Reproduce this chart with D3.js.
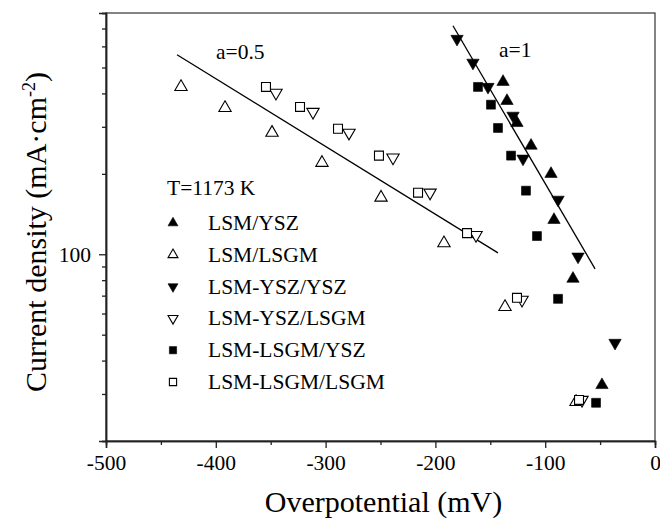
<!DOCTYPE html>
<html>
<head>
<meta charset="utf-8">
<script src="https://cdn.jsdelivr.net/npm/d3@7"></script>
<style>
  body { margin: 0; background: #fff; }
  text { font-family: "Liberation Serif", "Times New Roman", serif; fill: #000; }
</style>
</head>
<body>
<svg id="chart" width="660" height="518"></svg>
<script>
// Overpotential (mV) and current density (mA·cm-2) for each cathode/electrolyte pair
const lsmYszX = [-138.4, -134.8, -125.7, -112.9, -94.7, -92.0, -74.7, -48.3];
const lsmYszY = [442, 375, 310, 255, 200, 134.5, 81, 32.4];

const lsmLsgmX = [-431.7, -391.6, -348.8, -303.3, -249.5, -192.2, -136.6, -71.9];
const lsmLsgmY = [423, 353, 285, 220, 163, 110, 63.5, 28.0];

const lsmYszYszX = [-180.3, -165.8, -152.1, -129.3, -120.2, -88.3, -70.1, -36.4];
const lsmYszYszY = [640, 521, 423, 330, 228, 160, 98, 46.6];

const lsmYszLsgmX = [-345.2, -311.5, -278.7, -238.6, -204.9, -163.0, -121.1, -66.5];
const lsmYszLsgmY = [402, 341, 285, 230, 170, 118, 67.5, 28.5];

const lsmLsgmYszX = [-161.2, -149.4, -143.0, -131.1, -117.5, -107.5, -88.3, -53.7];
const lsmLsgmYszY = [423, 363, 297, 234, 173, 117, 68.1, 27.8];

const lsmLsgmLsgmX = [-354.3, -323.3, -288.7, -251.4, -215.8, -171.2, -125.7, -69.2];
const lsmLsgmLsgmY = [423, 356, 295, 234, 170, 120, 68.7, 28.5];

// Tafel fit lines (end points)
const fitHalfX = [-435.3, -143.0];
const fitHalfY = [558, 101.2];
const fitOneX = [-184.0, -54.6];
const fitOneY = [717, 88.2];

const xTicks = [-500, -400, -300, -200, -100, 0];
const xMinorTicks = [-450, -350, -250, -150, -50];
const yTicks = [100];
const yMinorTicks = [20, 30, 40, 50, 60, 70, 80, 90, 200, 300, 400, 500, 600, 700, 800];

const seriesNames = ["LSM/YSZ", "LSM/LSGM", "LSM-YSZ/YSZ", "LSM-YSZ/LSGM", "LSM-LSGM/YSZ", "LSM-LSGM/LSGM"];

const series = [
  { name: seriesNames[0], xs: lsmYszX, ys: lsmYszY, shape: "up", filled: true },
  { name: seriesNames[1], xs: lsmLsgmX, ys: lsmLsgmY, shape: "up", filled: false },
  { name: seriesNames[2], xs: lsmYszYszX, ys: lsmYszYszY, shape: "down", filled: true },
  { name: seriesNames[3], xs: lsmYszLsgmX, ys: lsmYszLsgmY, shape: "down", filled: false },
  { name: seriesNames[4], xs: lsmLsgmYszX, ys: lsmLsgmYszY, shape: "square", filled: true },
  { name: seriesNames[5], xs: lsmLsgmLsgmX, ys: lsmLsgmLsgmY, shape: "square", filled: false }
];

const svg = d3.select("#chart");
const L = 106, R = 655, T = 13, B = 441;

const x = d3.scaleLinear().domain([-500, 0]).range([L, R]);
const y = d3.scaleLog().domain([20, 800]).range([B, T]);

// Frame
svg.append("rect")
  .attr("x", L).attr("y", T).attr("width", R - L).attr("height", B - T)
  .attr("fill", "none").attr("stroke", "#333").attr("stroke-width", 1.2);

// Axes
const fontTick = 21.5;
svg.append("g").attr("transform", `translate(0,${B})`)
  .call(d3.axisBottom(x).tickValues(xTicks).tickSize(7).tickPadding(7).tickFormat(d => String(d)));
svg.append("g").attr("transform", `translate(0,${B})`)
  .call(d3.axisBottom(x).tickValues(xMinorTicks).tickSize(4).tickFormat(""));
svg.append("g").attr("transform", `translate(${L},0)`)
  .call(d3.axisLeft(y).tickValues(yTicks).tickSize(7).tickPadding(8).tickFormat(d => String(d)));
svg.append("g").attr("transform", `translate(${L},0)`)
  .call(d3.axisLeft(y).tickValues(yMinorTicks).tickSize(4).tickFormat(""));

svg.selectAll(".domain").attr("stroke", "#222").attr("stroke-width", 1.5);
svg.selectAll(".tick line").attr("stroke", "#222").attr("stroke-width", 1.3);
svg.selectAll(".tick text").style("font-size", fontTick + "px")
  .style("font-family", '"Liberation Serif", "Times New Roman", serif').attr("fill", "#000");

// Axis titles
svg.append("text")
  .attr("x", (L + R) / 2 + 3).attr("y", 512)
  .attr("text-anchor", "middle").style("font-size", "30px")
  .text("Overpotential (mV)");

const yt = svg.append("text")
  .attr("transform", `translate(46,232) rotate(-90)`)
  .attr("text-anchor", "middle").style("font-size", "30px");
yt.append("tspan").text("Current density (mA·cm");
yt.append("tspan").attr("dy", -11).style("font-size", "18px").text("-2");
yt.append("tspan").attr("dy", 11).text(")");

// Fit lines
const line = d3.line().x(d => x(d[0])).y(d => y(d[1]));
svg.append("path").datum(d3.zip(fitHalfX, fitHalfY))
  .attr("d", line).attr("fill", "none").attr("stroke", "#000").attr("stroke-width", 1.3);
svg.append("path").datum(d3.zip(fitOneX, fitOneY))
  .attr("d", line).attr("fill", "none").attr("stroke", "#000").attr("stroke-width", 1.3);

svg.append("text").attr("x", 216).attr("y", 59).style("font-size", "21.5px").text("a=0.5");
svg.append("text").attr("x", 499).attr("y", 57).style("font-size", "21.5px").text("a=1");

// Marker symbols
function symbolPath(shape, size) {
  if (shape === "square") return d3.symbol().type(d3.symbolSquare).size(size)();
  return d3.symbol().type(d3.symbolTriangle).size(size)();
}
function drawMarker(g, s, cx, cy, scale) {
  const sz = (s.shape === "square" ? 80 : 66) * scale;
  const rot = s.shape === "down" ? 180 : 0;
  g.append("path")
    .attr("d", symbolPath(s.shape, sz))
    .attr("transform", `translate(${cx},${cy}) rotate(${rot})`)
    .attr("fill", s.filled ? "#000" : "#fff")
    .attr("stroke", "#000")
    .attr("stroke-width", s.filled ? 0.6 : 1.1);
}

const pts = svg.append("g");
series.forEach(s => {
  s.xs.forEach((xv, i) => drawMarker(pts, s, x(xv), y(s.ys[i]), 1));
});

// Legend
svg.append("text").attr("x", 167).attr("y", 195).style("font-size", "21.5px").text("T=1173 K");
const lg = svg.append("g");
series.forEach((s, i) => {
  const cy = 223 + i * 31.8;
  drawMarker(lg, s, 173, cy, 0.65);
  lg.append("text").attr("x", 208).attr("y", cy + 7).style("font-size", "21.5px").text(s.name);
});
</script>
</body>
</html>
